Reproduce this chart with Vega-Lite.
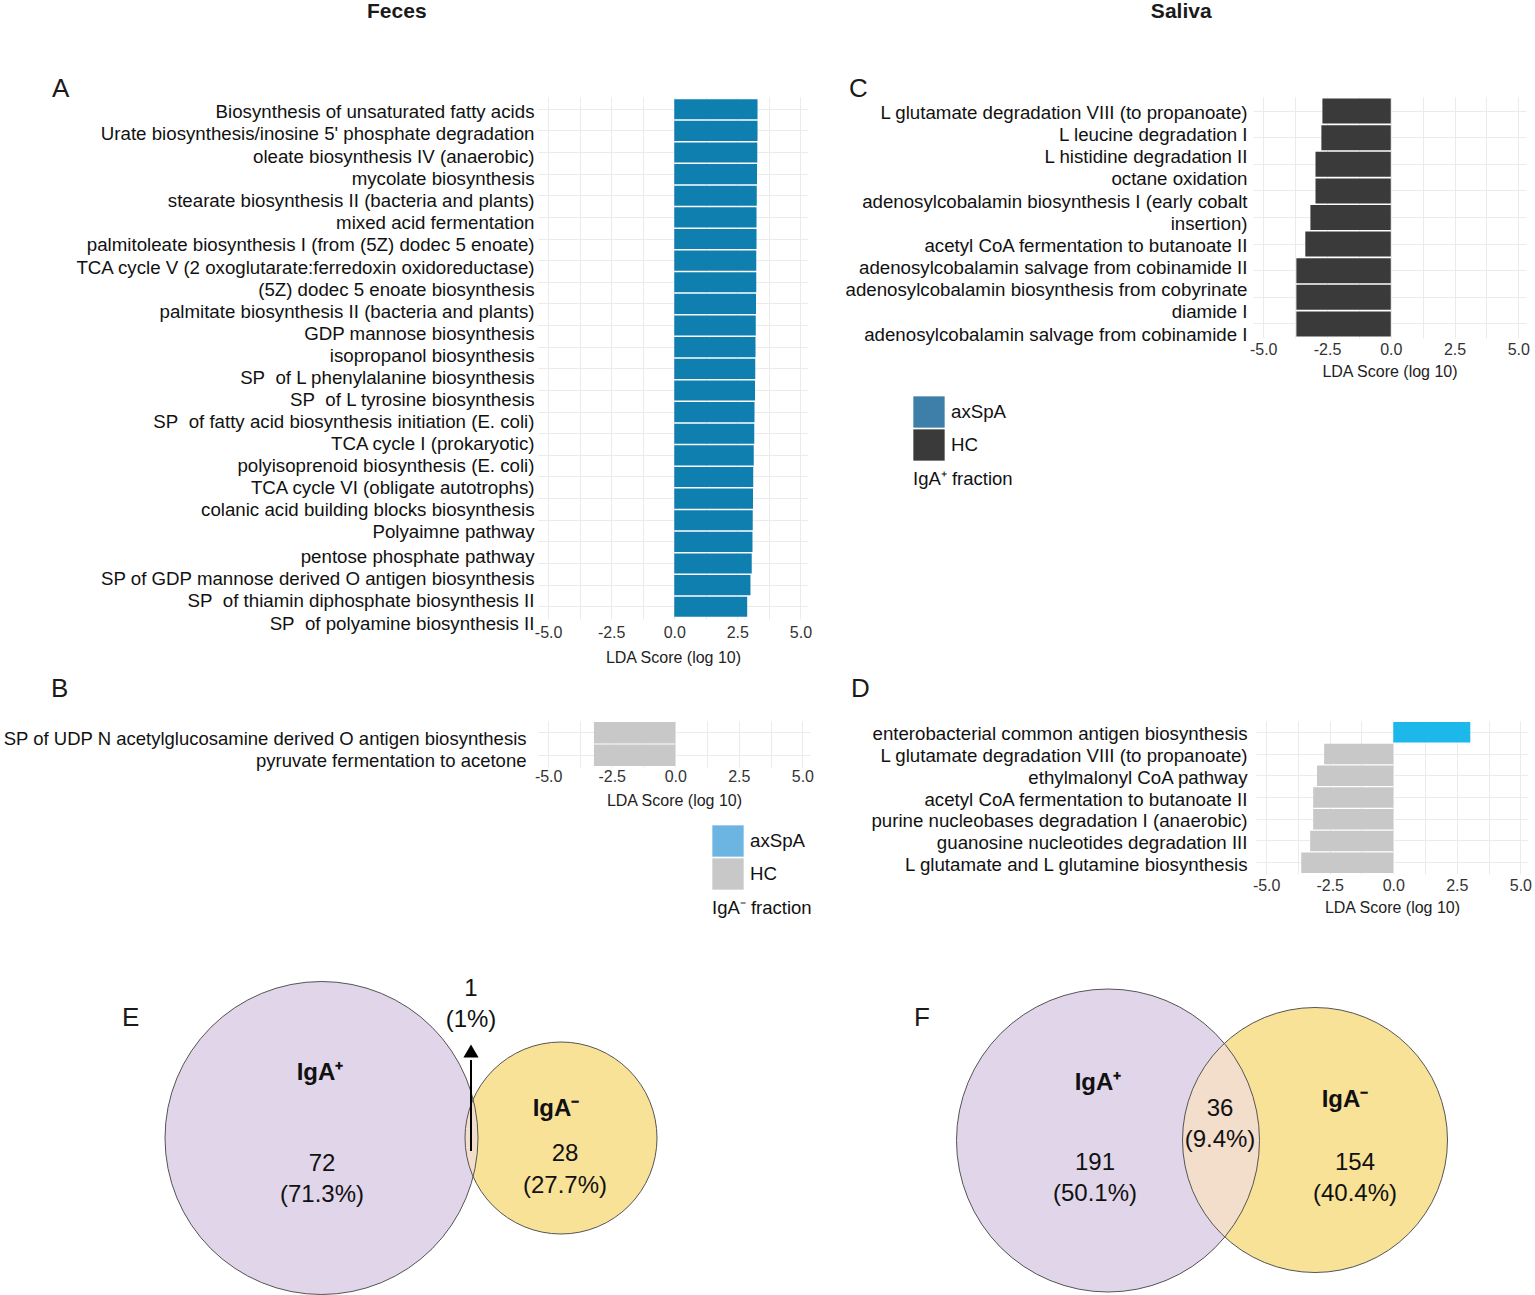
{
  "$schema": "https://vega.github.io/schema/vega-lite/v6.json",
  "padding": {"top": 1, "left": 0, "right": 0, "bottom": 0},
  "background": "white",
  "config": {
    "font": "Liberation Sans",
    "view": {"stroke": null},
    "title": {"color": "#1a1a1a"},
    "axisX": {"ticks": false, "domain": false, "gridColor": "#ebebeb", "labelFontSize": 16, "labelColor": "#333333", "labelPadding": 3, "titleFontSize": 16, "titleFontWeight": "normal", "titleColor": "#222222", "titlePadding": 6, "labelOverlap": false, "labelFlush": false, "labelBound": false},
    "axisY": {"ticks": false, "domain": false, "gridColor": "#ebebeb", "labelFontSize": 18.7, "labelColor": "#111111", "labelPadding": 5, "labelLimit": 700, "bandPosition": 0.5, "labelLineHeight": 22},
    "legend": {"symbolType": "square", "symbolSize": 980, "symbolStrokeWidth": 0, "symbolOpacity": 1, "labelFontSize": 18.7, "labelColor": "#111111", "titleOrient": "bottom", "titleFontSize": 18.5, "titleFontWeight": "normal", "titleColor": "#111111", "rowPadding": 1, "labelOffset": 6, "titlePadding": 9, "orient": "none"}
  },
  "datasets": {
    "A": [
      {"pathway": "Biosynthesis of unsaturated fatty acids", "lda": 3.3, "group": "axSpA"},
      {"pathway": "Urate biosynthesis/inosine 5' phosphate degradation", "lda": 3.3, "group": "axSpA"},
      {"pathway": "oleate biosynthesis IV (anaerobic)", "lda": 3.29, "group": "axSpA"},
      {"pathway": "mycolate biosynthesis", "lda": 3.28, "group": "axSpA"},
      {"pathway": "stearate biosynthesis II (bacteria and plants)", "lda": 3.27, "group": "axSpA"},
      {"pathway": "mixed acid fermentation", "lda": 3.26, "group": "axSpA"},
      {"pathway": "palmitoleate biosynthesis I (from (5Z) dodec 5 enoate)", "lda": 3.26, "group": "axSpA"},
      {"pathway": "TCA cycle V (2 oxoglutarate:ferredoxin oxidoreductase)", "lda": 3.25, "group": "axSpA"},
      {"pathway": "(5Z) dodec 5 enoate biosynthesis", "lda": 3.25, "group": "axSpA"},
      {"pathway": "palmitate biosynthesis II (bacteria and plants)", "lda": 3.24, "group": "axSpA"},
      {"pathway": "GDP mannose biosynthesis", "lda": 3.23, "group": "axSpA"},
      {"pathway": "isopropanol biosynthesis", "lda": 3.22, "group": "axSpA"},
      {"pathway": "SP\u00a0 of L phenylalanine biosynthesis", "lda": 3.21, "group": "axSpA"},
      {"pathway": "SP\u00a0 of L tyrosine biosynthesis", "lda": 3.2, "group": "axSpA"},
      {"pathway": "SP\u00a0 of fatty acid biosynthesis initiation (E. coli)", "lda": 3.18, "group": "axSpA"},
      {"pathway": "TCA cycle I (prokaryotic)", "lda": 3.17, "group": "axSpA"},
      {"pathway": "polyisoprenoid biosynthesis (E. coli)", "lda": 3.15, "group": "axSpA"},
      {"pathway": "TCA cycle VI (obligate autotrophs)", "lda": 3.13, "group": "axSpA"},
      {"pathway": "colanic acid building blocks biosynthesis", "lda": 3.12, "group": "axSpA"},
      {"pathway": "Polyaimne pathway", "lda": 3.11, "group": "axSpA"},
      {"pathway": "pentose phosphate pathway", "lda": 3.1, "group": "axSpA"},
      {"pathway": "SP of GDP mannose derived O antigen biosynthesis", "lda": 3.07, "group": "axSpA"},
      {"pathway": "SP\u00a0 of thiamin diphosphate biosynthesis II", "lda": 3.02, "group": "axSpA"},
      {"pathway": "SP\u00a0 of polyamine biosynthesis II", "lda": 2.89, "group": "axSpA"}
    ],
    "B": [
      {"pathway": "SP of UDP N acetylglucosamine derived O antigen biosynthesis", "lda": -3.2, "group": "HC"},
      {"pathway": "pyruvate fermentation to acetone", "lda": -3.2, "group": "HC"}
    ],
    "C": [
      {"pathway": "L glutamate degradation VIII (to propanoate)", "lda": -2.68, "group": "HC"},
      {"pathway": "L leucine degradation I", "lda": -2.72, "group": "HC"},
      {"pathway": "L histidine degradation II", "lda": -2.95, "group": "HC"},
      {"pathway": "octane oxidation", "lda": -2.95, "group": "HC"},
      {"pathway": "adenosylcobalamin biosynthesis I (early cobalt|insertion)", "lda": -3.15, "group": "HC"},
      {"pathway": "acetyl CoA fermentation to butanoate II", "lda": -3.35, "group": "HC"},
      {"pathway": "adenosylcobalamin salvage from cobinamide II", "lda": -3.7, "group": "HC"},
      {"pathway": "adenosylcobalamin biosynthesis from cobyrinate|diamide I", "lda": -3.7, "group": "HC"},
      {"pathway": "adenosylcobalamin salvage from cobinamide I", "lda": -3.7, "group": "HC"}
    ],
    "D": [
      {"pathway": "enterobacterial common antigen biosynthesis", "lda": 3.03, "group": "axSpA"},
      {"pathway": "L glutamate degradation VIII (to propanoate)", "lda": -2.72, "group": "HC"},
      {"pathway": "ethylmalonyl CoA pathway", "lda": -3.0, "group": "HC"},
      {"pathway": "acetyl CoA fermentation to butanoate II", "lda": -3.15, "group": "HC"},
      {"pathway": "purine nucleobases degradation I (anaerobic)", "lda": -3.15, "group": "HC"},
      {"pathway": "guanosine nucleotides degradation III", "lda": -3.27, "group": "HC"},
      {"pathway": "L glutamate and L glutamine biosynthesis", "lda": -3.62, "group": "HC"}
    ],
    "E_sets": [
      {"set": "IgA+", "total": 73, "x": 32.15, "y": 15.8},
      {"set": "IgA-", "total": 29, "x": 56.1, "y": 15.8}
    ],
    "E_arrow": [
      {"x": 47.1, "y": 14.5, "y2": 23.6, "head": 24.5}
    ],
    "E_text": [
      {"t": "IgA⁺", "x": 32.0, "y": 22.3, "bold": true},
      {"t": "72", "x": 32.2, "y": 13.2, "bold": false},
      {"t": "(71.3%)", "x": 32.2, "y": 10.1, "bold": false},
      {"t": "IgA⁻", "x": 55.6, "y": 18.7, "bold": true},
      {"t": "28", "x": 56.5, "y": 14.2, "bold": false},
      {"t": "(27.7%)", "x": 56.5, "y": 11.0, "bold": false},
      {"t": "1", "x": 47.1, "y": 30.7, "bold": false},
      {"t": "(1%)", "x": 47.1, "y": 27.6, "bold": false}
    ],
    "F_sets": [
      {"set": "IgA+", "total": 227, "x": 30.7, "y": 15.55},
      {"set": "IgA-", "total": 190, "x": 51.4, "y": 15.6}
    ],
    "F_text": [
      {"t": "IgA⁺", "x": 29.7, "y": 21.3, "bold": true},
      {"t": "191", "x": 29.4, "y": 13.3, "bold": false},
      {"t": "(50.1%)", "x": 29.4, "y": 10.2, "bold": false},
      {"t": "36", "x": 41.9, "y": 18.7, "bold": false},
      {"t": "(9.4%)", "x": 41.9, "y": 15.6, "bold": false},
      {"t": "IgA⁻", "x": 54.4, "y": 19.6, "bold": true},
      {"t": "154", "x": 55.4, "y": 13.3, "bold": false},
      {"t": "(40.4%)", "x": 55.4, "y": 10.2, "bold": false}
    ]
  },
  "spacing": 11,
  "resolve": {"scale": {"color": "independent", "size": "independent", "x": "independent", "y": "independent"}, "legend": {"color": "independent", "size": "independent"}},
  "vconcat": [
    {
      "spacing": 21,
      "resolve": {"scale": {"color": "independent", "size": "independent", "x": "independent", "y": "independent"}, "legend": {"color": "independent", "size": "independent"}},
      "hconcat": [
        {
          "title": {"text": "Feces", "fontSize": 21, "fontWeight": "bold", "anchor": "middle", "offset": 54, "dx": -9},
          "resolve": {"scale": {"color": "independent"}, "legend": {"color": "independent"}},
          "vconcat": [
            {
              "width": 270,
              "height": 522,
              "title": {"text": "A", "anchor": "start", "frame": "group", "dx": -486, "offset": -5, "fontSize": 26, "fontWeight": "normal"},
              "data": {"name": "A"},
              "mark": {"type": "bar"},
              "encoding": {
                "y": {"field": "pathway", "type": "nominal", "sort": null, "title": null, "scale": {"paddingInner": 0.07, "paddingOuter": 0.1}, "axis": {"grid": true, "minExtent": 538, "labelPadding": 4,
                  "labelOffset": {"condition": [
                    {"test": "round(datum.index*23) === 0", "value": 2.8},
                    {"test": "round(datum.index*23) === 1", "value": 3.1},
                    {"test": "round(datum.index*23) === 2", "value": 4.5},
                    {"test": "round(datum.index*23) === 3", "value": 4.9},
                    {"test": "round(datum.index*23) === 4", "value": 5.3},
                    {"test": "round(datum.index*23) === 5", "value": 5.6},
                    {"test": "round(datum.index*23) === 6", "value": 6.0},
                    {"test": "round(datum.index*23) === 7", "value": 7.4},
                    {"test": "round(datum.index*23) === 8", "value": 7.8},
                    {"test": "round(datum.index*23) === 9", "value": 8.1},
                    {"test": "round(datum.index*23) === 10", "value": 8.5},
                    {"test": "round(datum.index*23) === 11", "value": 8.9},
                    {"test": "round(datum.index*23) === 12", "value": 9.2},
                    {"test": "round(datum.index*23) === 13", "value": 9.6},
                    {"test": "round(datum.index*23) === 14", "value": 10.0},
                    {"test": "round(datum.index*23) === 15", "value": 10.3},
                    {"test": "round(datum.index*23) === 16", "value": 10.7},
                    {"test": "round(datum.index*23) === 17", "value": 11.1},
                    {"test": "round(datum.index*23) === 18", "value": 11.5},
                    {"test": "round(datum.index*23) === 19", "value": 11.8},
                    {"test": "round(datum.index*23) === 20", "value": 15.2},
                    {"test": "round(datum.index*23) === 21", "value": 15.6},
                    {"test": "round(datum.index*23) === 22", "value": 16.0},
                    {"test": "round(datum.index*23) === 23", "value": 17.3}
                  ], "value": 0}}},
                "x": {"field": "lda", "type": "quantitative", "title": "LDA Score (log 10)", "scale": {"domain": [-5.4, 5.3], "nice": false, "zero": false}, "axis": {"grid": true, "labelPadding": 5, "titlePadding": 9, "values": [-5, -3.75, -2.5, -1.25, 0, 1.25, 2.5, 3.75, 5], "labelExpr": "datum.value % 2.5 === 0 ? (datum.value < 0 ? '-' : '') + format(abs(datum.value), '.1f') : ''"}},
                "color": {"field": "group", "type": "nominal", "scale": {"domain": ["axSpA", "HC"], "range": ["#0f7fb0", "#3a3a3a"]}, "legend": null}
              }
            }
          ]
        },
        {
          "title": {"text": "Saliva", "fontSize": 21, "fontWeight": "bold", "anchor": "middle", "offset": 54, "dx": 0},
          "resolve": {"scale": {"color": "independent"}, "legend": {"color": "independent"}},
          "vconcat": [
            {
              "width": 273,
              "height": 241,
              "title": {"text": "C", "anchor": "start", "frame": "group", "dx": -404, "offset": -5, "fontSize": 26, "fontWeight": "normal"},
              "data": {"name": "C"},
              "mark": {"type": "bar"},
              "encoding": {
                "y": {"field": "pathway", "type": "nominal", "sort": null, "title": null, "scale": {"paddingInner": 0.06, "paddingOuter": 0.06}, "axis": {"grid": true, "minExtent": 420, "labelPadding": 6, "labelExpr": "split(datum.label, '|')",
                  "labelOffset": {"condition": [
                    {"test": "round(datum.index*8) === 0", "value": 2},
                    {"test": "round(datum.index*8) === 1", "value": -3},
                    {"test": "round(datum.index*8) === 2", "value": -7},
                    {"test": "round(datum.index*8) === 3", "value": -12},
                    {"test": "round(datum.index*8) === 4", "value": -16},
                    {"test": "round(datum.index*8) === 5", "value": 2},
                    {"test": "round(datum.index*8) === 6", "value": -3},
                    {"test": "round(datum.index*8) === 7", "value": -7},
                    {"test": "round(datum.index*8) === 8", "value": 11}
                  ], "value": 0}}},
                "x": {"field": "lda", "type": "quantitative", "title": "LDA Score (log 10)", "scale": {"domain": [-5.4, 5.3], "nice": false, "zero": false}, "axis": {"grid": true, "values": [-5, -3.75, -2.5, -1.25, 0, 1.25, 2.5, 3.75, 5], "labelExpr": "datum.value % 2.5 === 0 ? (datum.value < 0 ? '-' : '') + format(abs(datum.value), '.1f') : ''"}},
                "color": {"field": "group", "type": "nominal", "title": "IgA⁺ fraction", "scale": {"domain": ["axSpA", "HC"], "range": ["#3d7fa9", "#3a3a3a"]}, "legend": {"legendX": -340, "legendY": 299}}
              }
            }
          ]
        }
      ]
    },
    {
      "spacing": 15,
      "resolve": {"scale": {"color": "independent", "size": "independent", "x": "independent", "y": "independent"}, "legend": {"color": "independent", "size": "independent"}},
      "hconcat": [
        {
          "width": 272,
          "height": 46,
          "title": {"text": "B", "anchor": "start", "frame": "group", "dx": -487, "offset": 19, "fontSize": 26, "fontWeight": "normal"},
          "data": {"name": "B"},
          "mark": {"type": "bar"},
          "encoding": {
            "y": {"field": "pathway", "type": "nominal", "sort": null, "title": null, "scale": {"paddingInner": 0.05, "paddingOuter": 0.05}, "axis": {"grid": true, "minExtent": 530, "labelFontSize": 18.5, "labelPadding": 12, "labelOffset": 6}},
            "x": {"field": "lda", "type": "quantitative", "title": "LDA Score (log 10)", "scale": {"domain": [-5.4, 5.3], "nice": false, "zero": false}, "axis": {"grid": true, "labelPadding": 1, "titlePadding": 8, "values": [-5, -3.75, -2.5, -1.25, 0, 1.25, 2.5, 3.75, 5], "labelExpr": "datum.value % 2.5 === 0 ? (datum.value < 0 ? '-' : '') + format(abs(datum.value), '.1f') : ''"}},
            "color": {"field": "group", "type": "nominal", "title": "IgA⁻ fraction", "scale": {"domain": ["axSpA", "HC"], "range": ["#6cb4e2", "#c8c8c8"]}, "legend": {"legendX": 174, "legendY": 104}}
          }
        },
        {
          "width": 272,
          "height": 153,
          "title": {"text": "D", "anchor": "start", "frame": "group", "dx": -405, "offset": 19, "fontSize": 26, "fontWeight": "normal"},
          "data": {"name": "D"},
          "mark": {"type": "bar"},
          "encoding": {
            "y": {"field": "pathway", "type": "nominal", "sort": null, "title": null, "scale": {"paddingInner": 0.06, "paddingOuter": 0.05}, "axis": {"grid": true, "minExtent": 427, "labelPadding": 9, "labelOffset": 2}},
            "x": {"field": "lda", "type": "quantitative", "title": "LDA Score (log 10)", "scale": {"domain": [-5.4, 5.3], "nice": false, "zero": false}, "axis": {"grid": true, "values": [-5, -3.75, -2.5, -1.25, 0, 1.25, 2.5, 3.75, 5], "labelExpr": "datum.value % 2.5 === 0 ? (datum.value < 0 ? '-' : '') + format(abs(datum.value), '.1f') : ''"}},
            "color": {"field": "group", "type": "nominal", "scale": {"domain": ["axSpA", "HC"], "range": ["#1db8ea", "#c8c8c8"]}, "legend": null}
          }
        }
      ]
    },
    {
      "spacing": 0,
      "resolve": {"scale": {"color": "independent", "size": "independent", "x": "independent", "y": "independent"}, "legend": {"color": "independent", "size": "independent"}},
      "hconcat": [
        {
          "width": 263,
          "height": 367,
          "title": {"text": "E", "anchor": "start", "frame": "group", "dx": -416, "offset": -102, "fontSize": 26, "fontWeight": "normal"},
          "encoding": {
            "x": {"field": "x", "type": "quantitative", "scale": {"domain": [53.8, 80.1], "nice": false, "zero": false}, "axis": null},
            "y": {"field": "y", "type": "quantitative", "scale": {"domain": [0, 36.7], "nice": false, "zero": false}, "axis": null}
          },
          "layer": [
            {"data": {"name": "E_sets"}, "transform": [{"filter": "datum.set === 'IgA+'"}], "mark": {"type": "point", "shape": "circle", "filled": true, "fill": "#c9cee2", "opacity": 1, "strokeWidth": 0}, "encoding": {"size": {"field": "total", "type": "quantitative", "scale": {"domain": [29, 73], "range": [36864, 97969]}, "legend": null}}},
            {"data": {"name": "E_sets"}, "transform": [{"filter": "datum.set === 'IgA-'"}], "mark": {"type": "point", "shape": "circle", "filled": true, "fill": "#f8e297", "opacity": 1, "strokeWidth": 0}, "encoding": {"size": {"field": "total", "type": "quantitative", "scale": {"domain": [29, 73], "range": [36864, 97969]}, "legend": null}}},
            {"data": {"name": "E_sets"}, "transform": [{"filter": "datum.set === 'IgA+'"}], "mark": {"type": "point", "shape": "circle", "filled": true, "fill": "#f0dbee", "opacity": 0.6, "strokeWidth": 0}, "encoding": {"size": {"field": "total", "type": "quantitative", "scale": {"domain": [29, 73], "range": [36864, 97969]}, "legend": null}}},
            {"data": {"name": "E_sets"}, "mark": {"type": "point", "shape": "circle", "filled": false, "stroke": "#555555", "strokeWidth": 1, "opacity": 1}, "encoding": {"size": {"field": "total", "type": "quantitative", "scale": {"domain": [29, 73], "range": [36864, 97969]}, "legend": null}}},
            {"data": {"name": "E_arrow"}, "mark": {"type": "rule", "color": "#000000", "strokeWidth": 2}, "encoding": {"y2": {"field": "y2"}}},
            {"data": {"name": "E_arrow"}, "mark": {"type": "point", "shape": "triangle-up", "filled": true, "color": "#000000", "size": 230, "opacity": 1}, "encoding": {"y": {"field": "head", "type": "quantitative"}}},
            {"data": {"name": "E_text"}, "transform": [{"filter": "datum.bold"}], "mark": {"type": "text", "fontWeight": "bold", "fontSize": 24, "baseline": "middle", "color": "#111111"}, "encoding": {"text": {"field": "t"}}},
            {"data": {"name": "E_text"}, "transform": [{"filter": "!datum.bold"}], "mark": {"type": "text", "fontSize": 24, "baseline": "middle", "color": "#111111"}, "encoding": {"text": {"field": "t"}}}
          ]
        },
        {
          "width": 735,
          "height": 367,
          "title": {"text": "F", "anchor": "start", "frame": "group", "dx": 113, "offset": -102, "fontSize": 26, "fontWeight": "normal"},
          "encoding": {
            "x": {"field": "x", "type": "quantitative", "scale": {"domain": [0, 73.5], "nice": false, "zero": false}, "axis": null},
            "y": {"field": "y", "type": "quantitative", "scale": {"domain": [0, 36.7], "nice": false, "zero": false}, "axis": null}
          },
          "layer": [
            {"data": {"name": "F_sets"}, "transform": [{"filter": "datum.set === 'IgA+'"}], "mark": {"type": "point", "shape": "circle", "filled": true, "fill": "#c9cee2", "opacity": 1, "strokeWidth": 0}, "encoding": {"size": {"field": "total", "type": "quantitative", "scale": {"domain": [190, 227], "range": [70225, 91809]}, "legend": null}}},
            {"data": {"name": "F_sets"}, "transform": [{"filter": "datum.set === 'IgA-'"}], "mark": {"type": "point", "shape": "circle", "filled": true, "fill": "#f8e297", "opacity": 1, "strokeWidth": 0}, "encoding": {"size": {"field": "total", "type": "quantitative", "scale": {"domain": [190, 227], "range": [70225, 91809]}, "legend": null}}},
            {"data": {"name": "F_sets"}, "transform": [{"filter": "datum.set === 'IgA+'"}], "mark": {"type": "point", "shape": "circle", "filled": true, "fill": "#f0dbee", "opacity": 0.6, "strokeWidth": 0}, "encoding": {"size": {"field": "total", "type": "quantitative", "scale": {"domain": [190, 227], "range": [70225, 91809]}, "legend": null}}},
            {"data": {"name": "F_sets"}, "mark": {"type": "point", "shape": "circle", "filled": false, "stroke": "#555555", "strokeWidth": 1, "opacity": 1}, "encoding": {"size": {"field": "total", "type": "quantitative", "scale": {"domain": [190, 227], "range": [70225, 91809]}, "legend": null}}},
            {"data": {"name": "F_text"}, "transform": [{"filter": "datum.bold"}], "mark": {"type": "text", "fontWeight": "bold", "fontSize": 24, "baseline": "middle", "color": "#111111"}, "encoding": {"text": {"field": "t"}}},
            {"data": {"name": "F_text"}, "transform": [{"filter": "!datum.bold"}], "mark": {"type": "text", "fontSize": 24, "baseline": "middle", "color": "#111111"}, "encoding": {"text": {"field": "t"}}}
          ]
        }
      ]
    }
  ]
}
